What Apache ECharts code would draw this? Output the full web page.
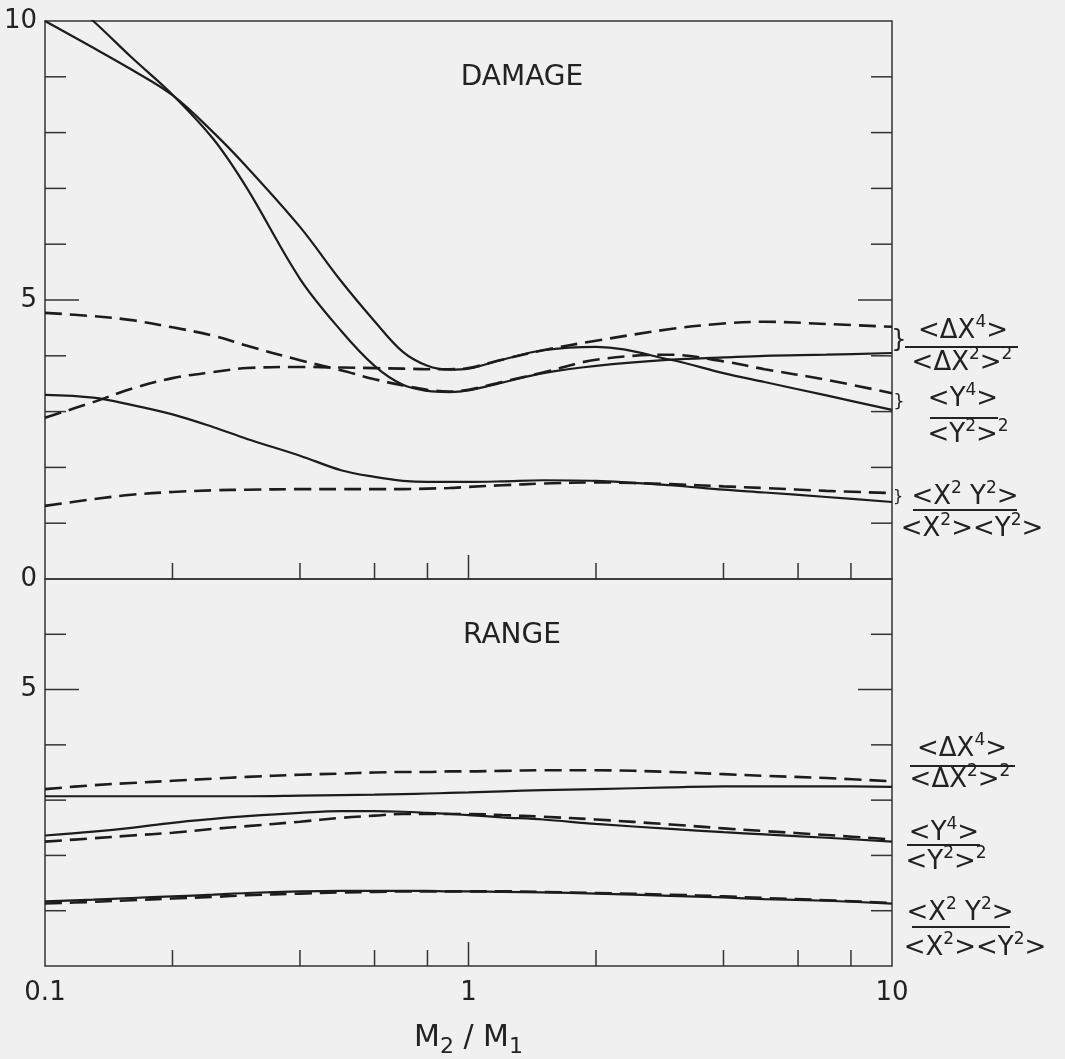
<!DOCTYPE html>
<html><head><meta charset="utf-8">
<script src="https://cdn.jsdelivr.net/npm/echarts@6/dist/echarts.min.js"></script>
<style>html,body{margin:0;padding:0;background:#f0f0f0}#c{width:1065px;height:1059px}</style>
</head><body><div id="c"></div><script>
// ---- data ----
const massRatio = [0.1,0.13,0.16,0.2,0.25,0.3,0.4,0.5,0.6,0.7,0.8,0.9,1.0,1.2,1.5,2,3,4,5,7,10];
// DAMAGE panel
const damageDX4Solid  = [10.75,10.0,9.35,8.68,7.88,7.0,5.38,4.45,3.82,3.48,3.37,3.35,3.38,3.52,3.69,3.82,3.93,3.97,4.0,4.02,4.05];
const damageDX4Dashed = [2.89,3.17,3.41,3.60,3.71,3.78,3.80,3.79,3.78,3.77,3.76,3.76,3.78,3.93,4.1,4.27,4.48,4.58,4.61,4.57,4.52];
const damageY4Solid   = [10.0,9.52,9.13,8.67,8.0,7.38,6.31,5.34,4.62,4.07,3.82,3.75,3.77,3.93,4.1,4.16,3.93,3.69,3.53,3.29,3.03];
const damageY4Dashed  = [4.77,4.71,4.64,4.51,4.36,4.18,3.92,3.74,3.58,3.47,3.39,3.36,3.39,3.53,3.70,3.93,4.02,3.9,3.76,3.57,3.33];
const damageXYSolid   = [3.30,3.25,3.12,2.95,2.72,2.51,2.21,1.95,1.83,1.76,1.74,1.74,1.74,1.75,1.77,1.76,1.68,1.60,1.55,1.47,1.38];
const damageXYDashed  = [1.31,1.43,1.51,1.56,1.59,1.60,1.61,1.61,1.61,1.61,1.62,1.63,1.65,1.68,1.71,1.73,1.70,1.66,1.63,1.58,1.54];
// RANGE panel
const rangeDX4Solid   = [3.07,3.07,3.07,3.07,3.07,3.07,3.08,3.09,3.10,3.11,3.12,3.13,3.14,3.16,3.18,3.20,3.23,3.25,3.25,3.25,3.24];
const rangeDX4Dashed  = [3.20,3.27,3.31,3.35,3.39,3.42,3.46,3.48,3.50,3.51,3.51,3.52,3.52,3.53,3.54,3.54,3.51,3.47,3.44,3.40,3.34];
const rangeY4Solid    = [2.36,2.43,2.50,2.59,2.66,2.71,2.77,2.80,2.80,2.79,2.77,2.75,2.73,2.69,2.65,2.57,2.48,2.42,2.38,2.32,2.25];
const rangeY4Dashed   = [2.25,2.31,2.36,2.41,2.48,2.53,2.61,2.68,2.72,2.75,2.75,2.75,2.75,2.73,2.70,2.65,2.56,2.49,2.44,2.37,2.29];
const rangeXYSolid    = [1.17,1.20,1.23,1.26,1.29,1.32,1.35,1.36,1.36,1.36,1.36,1.35,1.35,1.34,1.33,1.31,1.27,1.24,1.21,1.18,1.13];
const rangeXYDashed   = [1.13,1.16,1.19,1.22,1.25,1.28,1.31,1.33,1.34,1.35,1.35,1.35,1.35,1.35,1.34,1.32,1.29,1.26,1.23,1.19,1.14];
// ticks
const xMinorTicks = [0.2,0.4,0.6,0.8,2,4,6,8];
const xMajorTicks = [1];
const damageYMinorTicks = [1,2,3,4,6,7,8,9];
const damageYMajorTicks = [5];
const rangeYMinorTicks = [1,2,3,4,6];
const rangeYMajorTicks = [5];
const xMin = 0.1, xMax = 10;

// ---- styles ----
const FONT = '"DejaVu Sans", "Liberation Sans", sans-serif';
const INK = '#222';
const LINE = '#1c1c1c';

function curve(name, values, grid, dashed) {
  return {
    name, type: 'line', xAxisIndex: grid, yAxisIndex: grid,
    data: massRatio.map((m, i) => [m, values[i]]),
    smooth: 0.35, showSymbol: false, symbol: 'none', silent: true,
    lineStyle: { color: LINE, width: dashed ? 2.6 : 2.2, type: dashed ? [17, 8] : 'solid' }
  };
}

function tickSeries(grid, yMinor, yMajor) {
  const data = [];
  xMinorTicks.forEach(v => data.push([v, 0, 0, 0]));
  xMajorTicks.forEach(v => data.push([v, 0, 0, 1]));
  yMinor.forEach(v => data.push([1, v, 1, 0]));
  yMajor.forEach(v => data.push([1, v, 1, 1]));
  return {
    type: 'custom', xAxisIndex: grid, yAxisIndex: grid, silent: true, clip: false,
    encode: { x: 0, y: 1 }, data,
    renderItem(params, api) {
      const kind = api.value(2), major = api.value(3);
      const style = { stroke: '#333', lineWidth: 1.5 };
      if (kind === 0) {
        const p = api.coord([api.value(0), 0]);
        const len = major ? 24 : 16;
        return { type: 'line', shape: { x1: p[0], y1: p[1], x2: p[0], y2: p[1] - len }, style };
      }
      const yv = api.value(1);
      const l = api.coord([xMin, yv]), r = api.coord([xMax, yv]);
      const len = major ? 34 : 21;
      return { type: 'group', children: [
        { type: 'line', shape: { x1: l[0], y1: l[1], x2: l[0] + len, y2: l[1] }, style },
        { type: 'line', shape: { x1: r[0], y1: r[1], x2: r[0] - len, y2: r[1] }, style }
      ] };
    }
  };
}

const rich = {
  b: { fontSize: 26, fontFamily: FONT, fill: INK, color: INK },
  p: { fontSize: 17, fontFamily: FONT, fill: INK, color: INK, padding: [0, 0, 16, 0] }
};
function txt(x, y, text, opts) {
  return { type: 'text', x, y, silent: true, style: Object.assign({
    text, rich, fill: INK, font: '26px ' + FONT,
    textAlign: 'center', textVerticalAlign: 'middle', align: 'center', verticalAlign: 'middle'
  }, opts || {}) };
}
function bar(x1, x2, y) {
  return { type: 'line', silent: true, shape: { x1, y1: y, x2, y2: y }, style: { stroke: INK, lineWidth: 1.8 } };
}
function frac(numX, numY, denX, denY, barX1, barX2, barY, num, den) {
  return [txt(numX, numY, num), bar(barX1, barX2, barY), txt(denX, denY, den)];
}
const lblDX = ['{b|<ΔX}{p|4}{b|>}', '{b|<ΔX}{p|2}{b|>}{p|2}'];
const lblY  = ['{b|<Y}{p|4}{b|>}', '{b|<Y}{p|2}{b|>}{p|2}'];
const lblXY = ['{b|<X}{p|2}{b| Y}{p|2}{b|>}', '{b|<X}{p|2}{b|><Y}{p|2}{b|>}'];

const graphics = [
  txt(522, 78, 'DAMAGE', { font: '28px ' + FONT }),
  txt(512, 636, 'RANGE', { font: '28px ' + FONT }),
  txt(899, 341, '}', { font: '24px ' + FONT }),
  txt(899, 402, '}', { font: '18px ' + FONT }),
  txt(898, 497, '}', { font: '16px ' + FONT }),
  ...frac(963, 331, 962, 363, 905, 1018, 347, lblDX[0], lblDX[1]),
  ...frac(963, 399, 968, 435, 930, 998, 418, lblY[0], lblY[1]),
  ...frac(965, 497, 972, 529, 913, 1017, 510, lblXY[0], lblXY[1]),
  ...frac(962, 749, 960, 780, 910, 1015, 766, lblDX[0], lblDX[1]),
  ...frac(944, 833, 946, 862, 907, 980, 845, lblY[0], lblY[1]),
  ...frac(960, 913, 975, 948, 912, 1010, 927, lblXY[0], lblXY[1])
];

const chart = echarts.init(document.getElementById('c'), null, { renderer: 'canvas' });
const axisText = { fontSize: 26, fontFamily: FONT, color: INK };
chart.setOption({
  backgroundColor: '#f0f0f0',
  animation: false,
  grid: [
    { left: 45, top: 21, width: 847, height: 558, show: true, borderColor: '#333', borderWidth: 1.5, backgroundColor: 'transparent' },
    { left: 45, top: 579, width: 847, height: 391, show: true, borderColor: '#333', borderWidth: 1.5, backgroundColor: 'transparent' }
  ],
  xAxis: [
    { gridIndex: 0, type: 'log', logBase: 10, min: xMin, max: xMax,
      axisLine: { show: false }, axisTick: { show: false }, axisLabel: { show: false }, splitLine: { show: false } },
    { gridIndex: 1, type: 'log', logBase: 10, min: xMin, max: xMax,
      axisLine: { show: false }, axisTick: { show: false }, splitLine: { show: false },
      axisLabel: Object.assign({ margin: 14, formatter: v => String(v) }, axisText),
      name: '{m|M}{s|2}{m| / M}{s|1}', nameLocation: 'middle', nameGap: 52,
      nameTextStyle: { rich: {
        m: { fontSize: 30, fontFamily: FONT, color: INK },
        s: { fontSize: 22, fontFamily: FONT, color: INK, padding: [18, 0, 0, 0] }
      } } }
  ],
  yAxis: [
    { gridIndex: 0, type: 'value', min: 0, max: 10, interval: 5,
      axisLine: { show: false }, axisTick: { show: false }, splitLine: { show: false },
      axisLabel: Object.assign({ margin: 8 }, axisText) },
    { gridIndex: 1, type: 'value', min: 0, max: 7, interval: 5,
      axisLine: { show: false }, axisTick: { show: false }, splitLine: { show: false },
      axisLabel: Object.assign({ margin: 8, formatter: v => (v === 5 ? '5' : '') }, axisText) }
  ],
  graphic: graphics,
  series: [
    curve('DAMAGE <ΔX4>/<ΔX2>2 solid', damageDX4Solid, 0, false),
    curve('DAMAGE <ΔX4>/<ΔX2>2 dashed', damageDX4Dashed, 0, true),
    curve('DAMAGE <Y4>/<Y2>2 solid', damageY4Solid, 0, false),
    curve('DAMAGE <Y4>/<Y2>2 dashed', damageY4Dashed, 0, true),
    curve('DAMAGE <X2Y2>/<X2><Y2> solid', damageXYSolid, 0, false),
    curve('DAMAGE <X2Y2>/<X2><Y2> dashed', damageXYDashed, 0, true),
    curve('RANGE <ΔX4>/<ΔX2>2 solid', rangeDX4Solid, 1, false),
    curve('RANGE <ΔX4>/<ΔX2>2 dashed', rangeDX4Dashed, 1, true),
    curve('RANGE <Y4>/<Y2>2 solid', rangeY4Solid, 1, false),
    curve('RANGE <Y4>/<Y2>2 dashed', rangeY4Dashed, 1, true),
    curve('RANGE <X2Y2>/<X2><Y2> solid', rangeXYSolid, 1, false),
    curve('RANGE <X2Y2>/<X2><Y2> dashed', rangeXYDashed, 1, true),
    tickSeries(0, damageYMinorTicks, damageYMajorTicks),
    tickSeries(1, rangeYMinorTicks, rangeYMajorTicks)
  ]
});
</script></body></html>
